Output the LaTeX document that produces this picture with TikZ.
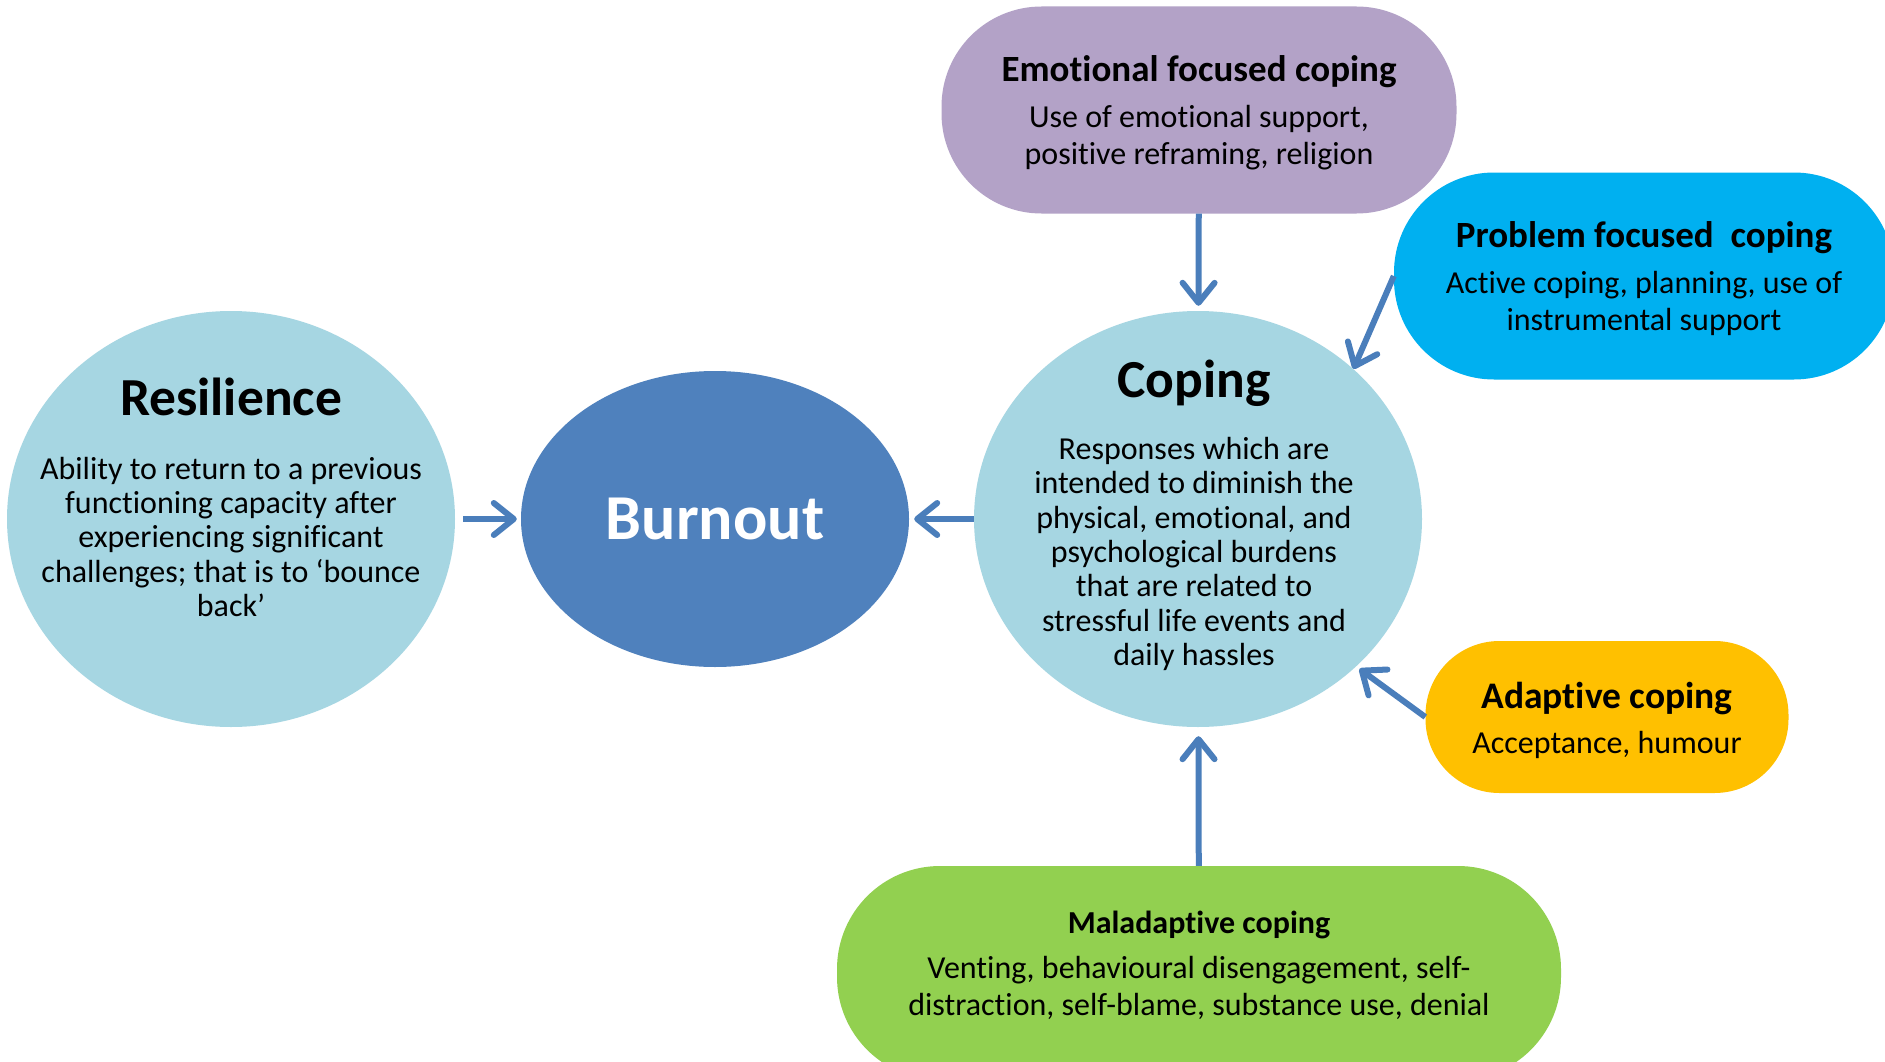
\documentclass[tikz,border=0pt]{standalone}
\usepackage{fontspec}
\setmainfont{Carlito}[Ligatures=NoCommon]
\usetikzlibrary{arrows.meta,shapes.geometric}
\definecolor{lblue}{HTML}{A6D6E2}
\definecolor{burnc}{HTML}{4F81BD}
\definecolor{emoc}{HTML}{B3A2C7}
\definecolor{probc}{HTML}{00B0F0}
\definecolor{adapc}{HTML}{FFC000}
\definecolor{malc}{HTML}{92D050}
\definecolor{arrc}{HTML}{4A7EBB}
\begin{document}
\begin{tikzpicture}[x=1pt,y=-1pt,
  ell/.style={ellipse,inner sep=0pt,draw=none},
  pill/.style={rectangle,inner sep=0pt,draw=none},
  arr/.style={draw=arrc,line width=6pt,-{Straight Barb[length=20pt,width=32pt,round]}},
  bigtitle/.style={font=\fontsize{53.5}{60}\selectfont\bfseries},
  body/.style={align=center,font=\fontsize{32}{34.4}\selectfont},
  sbody/.style={align=center,font=\fontsize{32}{37}\selectfont},
  stitle/.style={font=\fontsize{37}{42}\selectfont\bfseries}
]
\useasboundingbox (0,0) rectangle (1885,1062);
\clip (0,0) rectangle (1885,1062);
\fill[white] (0,0) rectangle (1885,1062);

% shapes
\node[ell,fill=lblue,minimum width=448pt,minimum height=416pt] (res) at (231,519) {};
\node[ell,fill=burnc,minimum width=388pt,minimum height=296pt] (burn) at (715,519) {};
\node[ell,fill=lblue,minimum width=448pt,minimum height=416pt] (cop) at (1198,519) {};
\node[pill,fill=emoc,minimum width=515pt,minimum height=207pt,rounded corners=100pt] (emo) at (1199,110) {};
\node[pill,fill=probc,minimum width=500pt,minimum height=207pt,rounded corners=100pt] (prob) at (1644,276) {};
\node[pill,fill=adapc,minimum width=363pt,minimum height=152pt,rounded corners=74pt] (adap) at (1607,717) {};
\node[pill,fill=malc,minimum width=724pt,minimum height=214pt,rounded corners=103pt] (mal) at (1199,973) {};

% texts
\node[bigtitle] (restitle) at (231,397) {Resilience};
\node[body] (resbody) at (231,537) {Ability to return to a previous\\functioning capacity after\\experiencing significant\\challenges; that is to ‘bounce\\back’};
\node[font=\fontsize{64}{74}\selectfont\bfseries,text=white] (burntitle) at (715,519) {Burnout};
\node[bigtitle] (coptitle) at (1194,383) {Coping};
\node[body] (copbody) at (1194,554) {Responses which are\\intended to diminish the\\physical, emotional, and\\psychological burdens\\that are related to\\stressful life events and\\daily hassles};
\node[stitle] (emotitle) at (1199,72) {Emotional focused coping};
\node[sbody] (emobody) at (1199,138) {Use of emotional support,\\positive reframing, religion};
\node[stitle] (probtitle) at (1644,238) {Problem focused\ \ coping};
\node[sbody] (probbody) at (1644,303) {Active coping, planning, use of\\instrumental support};
\node[font=\fontsize{37.5}{42}\selectfont\bfseries] (adaptitle) at (1607,699) {Adaptive coping};
\node[font=\fontsize{32}{36}\selectfont] (adapbody) at (1607,745) {Acceptance, humour};
\node[font=\fontsize{32}{36}\selectfont\bfseries] (maltitle) at (1199,925) {Maladaptive coping};
\node[sbody] (malbody) at (1199,988) {Venting, behavioural disengagement, self-\\distraction, self-blame, substance use, denial};

% arrows
\draw[arr,shorten <=8pt,shorten >=4pt] (res) -- (burn);
\draw[arr,shorten >=5pt] (cop) -- (burn);
\draw[arr,shorten >=5pt] (emo) -- (cop);
\draw[arr] (prob.west) -- (cop.44);
\draw[arr,shorten >=4pt] (adap.west) -- (cop.-43);
\draw[arr,shorten >=9pt] (mal) -- (cop);
\end{tikzpicture}
\end{document}
